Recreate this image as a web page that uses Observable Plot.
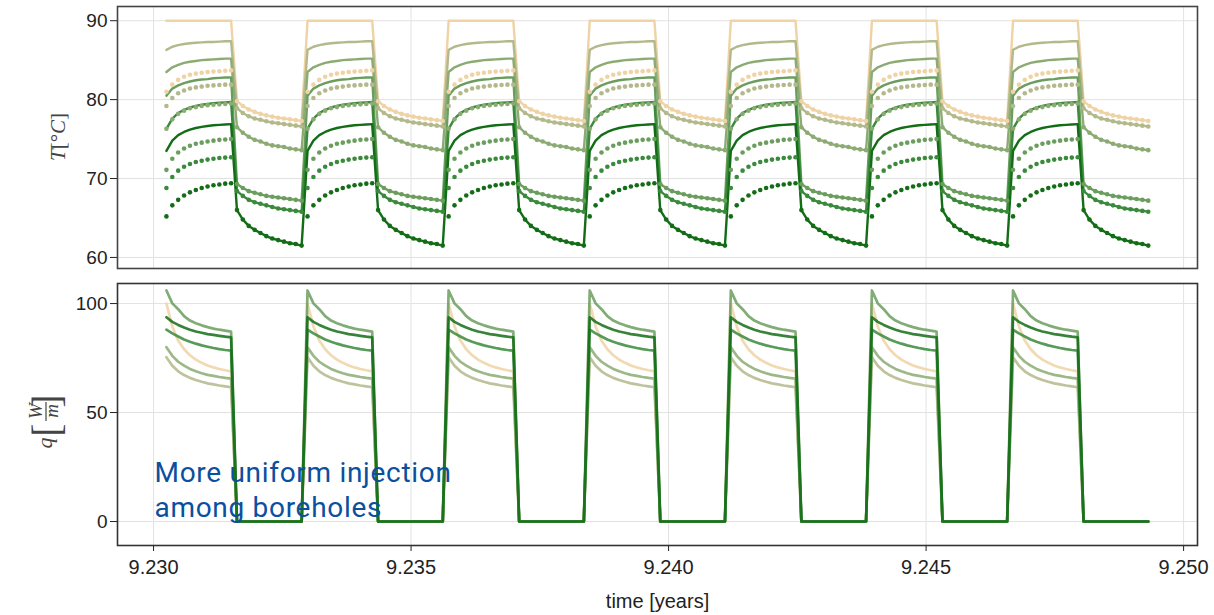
<!DOCTYPE html>
<html>
<head>
<meta charset="utf-8">
<script src="https://cdn.jsdelivr.net/npm/d3@7"></script>
<script src="https://cdn.jsdelivr.net/npm/@observablehq/plot@0.6"></script>
<style>
  body { margin: 0; background: #fff; }
  #chart svg { display: block; }
</style>
</head>
<body>
<div id="chart"></div>
<script>
// ---------------- DATA ----------------
const boreholes = ["BH1", "BH2", "BH3", "BH4", "BH5", "BH6"];
const boreholeColors = ["#efd3a5", "#b3b98b", "#8cab73", "#6b9e5e", "#3a8a3c", "#136d16"];

// 7 identical daily cycles, hourly time steps: 12 h injection, 12 h rest
const cycleDays = [0, 1, 2, 3, 4, 5, 6];
const hourOfDay = [0, 1, 2, 3, 4, 5, 6, 7, 8, 9, 10, 11, 12, 13, 14, 15, 16, 17, 18, 19, 20, 21, 22, 23];
const chargeHours = 12;
const startYear = 9.23025;
const hoursPerYear = 8760;

// inlet temperature (solid lines) during injection hours 0..11 [°C]
const tInletCharge = [
  [90, 90, 90, 90, 90, 90, 90, 90, 90, 90, 90, 90],
  [86.3, 86.7, 86.9, 87.05, 87.15, 87.2, 87.25, 87.3, 87.3, 87.35, 87.4, 87.4],
  [83.5, 84.1, 84.4, 84.65, 84.8, 84.9, 85.0, 85.05, 85.1, 85.15, 85.2, 85.2],
  [80.5, 81.4, 81.8, 82.1, 82.3, 82.45, 82.55, 82.6, 82.7, 82.75, 82.8, 82.8],
  [76.3, 77.6, 78.3, 78.7, 79.0, 79.2, 79.35, 79.45, 79.55, 79.6, 79.65, 79.7],
  [73.5, 74.8, 75.5, 75.9, 76.2, 76.4, 76.55, 76.65, 76.75, 76.8, 76.85, 76.9]
];
// outlet temperature (dots) during injection hours 0..11 [°C]
const tOutletCharge = [
  [81.0, 81.9, 82.5, 82.9, 83.15, 83.3, 83.4, 83.5, 83.55, 83.6, 83.65, 83.7],
  [79.2, 80.2, 80.8, 81.15, 81.4, 81.55, 81.65, 81.75, 81.8, 81.85, 81.9, 81.9],
  [76.3, 77.5, 78.2, 78.6, 78.9, 79.05, 79.2, 79.3, 79.35, 79.4, 79.45, 79.5],
  [71.1, 72.5, 73.3, 73.8, 74.15, 74.4, 74.55, 74.7, 74.8, 74.9, 74.95, 75.0],
  [68.8, 70.2, 71.0, 71.5, 71.85, 72.1, 72.25, 72.4, 72.5, 72.6, 72.65, 72.7],
  [65.2, 66.6, 67.3, 67.85, 68.25, 68.55, 68.8, 69.0, 69.15, 69.25, 69.35, 69.4]
];
// fluid temperature during rest hours 12..23 [°C] (inlet = outlet)
const tRest = [
  [79.8, 79.2, 78.75, 78.45, 78.2, 78.0, 77.85, 77.7, 77.6, 77.5, 77.4, 77.3],
  [78.9, 78.3, 77.9, 77.6, 77.45, 77.25, 77.1, 77.0, 76.9, 76.8, 76.7, 76.6],
  [76.5, 75.8, 75.3, 74.9, 74.7, 74.4, 74.2, 74.1, 74.0, 73.8, 73.7, 73.6],
  [69.3, 68.8, 68.4, 68.2, 68.0, 67.8, 67.7, 67.6, 67.5, 67.4, 67.3, 67.2],
  [68.4, 67.8, 67.3, 67.0, 66.8, 66.6, 66.4, 66.2, 66.1, 66.0, 65.9, 65.8],
  [66.0, 64.8, 64.0, 63.5, 63.1, 62.7, 62.4, 62.2, 62.0, 61.8, 61.7, 61.5]
];
// heat injection rate during injection hours 0..11 [W/m]
const qCharge = [
  [100, 89.5, 83.0, 79.0, 76.3, 74.3, 72.8, 71.6, 70.7, 70.0, 69.4, 68.9],
  [75.4, 71.5, 68.9, 67.2, 65.9, 64.9, 64.1, 63.4, 62.9, 62.4, 62.0, 61.6],
  [80.0, 76.0, 73.3, 71.5, 70.0, 68.9, 68.0, 67.3, 66.8, 66.3, 65.9, 65.6],
  [106, 100.1, 97.4, 94.2, 92.2, 91.0, 90.0, 89.2, 88.5, 88.0, 87.6, 87.1],
  [88.0, 86.3, 84.9, 83.5, 82.5, 81.6, 80.8, 80.2, 79.6, 79.1, 78.7, 78.4],
  [93.7, 91.6, 90.2, 89.0, 88.0, 87.2, 86.6, 86.0, 85.6, 85.2, 84.8, 84.5]
];
// heat injection rate during rest hours 12..23 [W/m]
const qRest = [0, 0, 0, 0, 0, 0, 0, 0, 0, 0, 0, 0];

const xTicks = [9.230, 9.235, 9.240, 9.245, 9.250];
const tTicks = [60, 70, 80, 90];
const qTicks = [0, 50, 100];
const annotation = "More uniform injection\namong boreholes";
const xLabel = "time [years]";

// ---------------- TABLE ----------------
const rows = [];
boreholes.forEach((bh, b) => {
  cycleDays.forEach(day => {
    hourOfDay.forEach(h => {
      const charging = h < chargeHours;
      rows.push({
        bh,
        t: startYear + (day * 24 + h) / hoursPerYear,
        tin: charging ? tInletCharge[b][h] : tRest[b][h - chargeHours],
        tout: charging ? tOutletCharge[b][h] : tRest[b][h - chargeHours],
        q: charging ? qCharge[b][h] : qRest[h - chargeHours]
      });
    });
  });
});

// ---------------- PLOTS ----------------
const xDomain = [9.2293, 9.25027];
const gridStyle = {stroke: "#e2e2e2", strokeOpacity: 1, strokeWidth: 1};
const common = {
  width: 1214,
  marginLeft: 117,
  marginRight: 17,
  color: {domain: boreholes, range: boreholeColors},
  style: {fontFamily: "'Liberation Sans', Arial, sans-serif", fontSize: "19px", color: "#222", background: "#fff", overflow: "visible"}
};

const topPlot = Plot.plot({
  ...common,
  height: 275,
  marginTop: 6,
  marginBottom: 7,
  x: {domain: xDomain, axis: null},
  y: {domain: [58.6, 91.8]},
  marks: [
    Plot.gridX(xTicks, gridStyle),
    Plot.gridY(tTicks, gridStyle),
    Plot.axisY(tTicks, {tickSize: 7, tickPadding: 3, label: null, fontSize: 19}),
    Plot.line(rows, {x: "t", y: "tin", z: "bh", stroke: "bh", strokeWidth: 2.4}),
    Plot.dot(rows, {x: "t", y: "tout", fill: "bh", r: 2.3}),
    Plot.frame({stroke: "#444", strokeWidth: 1.6})
  ]
});

const bottomPlot = Plot.plot({
  ...common,
  height: 340,
  marginTop: 8,
  marginBottom: 70,
  x: {domain: xDomain},
  y: {domain: [-11, 109.2]},
  marks: [
    Plot.gridX(xTicks, gridStyle),
    Plot.gridY(qTicks, gridStyle),
    Plot.axisY(qTicks, {tickSize: 7, tickPadding: 3, label: null, fontSize: 19}),
    Plot.axisX(xTicks, {tickSize: 6, tickPadding: 8, tickFormat: d3.format(".3f"), label: null, fontSize: 20}),
    Plot.line(rows, {x: "t", y: "q", z: "bh", stroke: "bh", strokeWidth: 2.7, strokeOpacity: 0.85}),
    Plot.text([xLabel], {text: d => d, frameAnchor: "bottom", dy: 62, lineAnchor: "bottom", fontSize: 20, fill: "#222"}),
    Plot.text([annotation], {text: d => d, frameAnchor: "bottom-left", dx: 37, dy: -29, textAnchor: "start",
      lineAnchor: "bottom", lineHeight: 1.23, fontSize: 28, fill: "#0b4f9f", fontFamily: "Roboto, 'Open Sans', sans-serif"}),
    Plot.frame({stroke: "#333", strokeWidth: 1.6})
  ]
});

// annotation letter spacing to match the reference's wider face
d3.select(bottomPlot).selectAll("text")
  .filter(function() { return this.textContent.startsWith("More"); })
  .attr("letter-spacing", "0.7px");

// ---------------- AXIS TITLES (math-style) ----------------
const serif = "'Liberation Serif', 'DejaVu Serif', serif";
const gT = d3.select(topPlot).append("g")
  .attr("transform", "translate(65,137) rotate(-90)")
  .attr("font-family", serif).attr("font-size", 21).attr("fill", "#444").attr("text-anchor", "middle");
const tT = gT.append("text");
tT.append("tspan").attr("font-style", "italic").text("T");
tT.append("tspan").text("[°");
tT.append("tspan").attr("font-style", "italic").text("C");
tT.append("tspan").text("]");

// bottom svg starts at page y = 275, so the centre of its frame (page y 414) is at 139
const gQ = d3.select(bottomPlot).append("g")
  .attr("transform", "translate(52,139) rotate(-90)")
  .attr("font-family", serif).attr("fill", "#444");
gQ.append("text").attr("x", -29).attr("y", 0).attr("font-size", 22).attr("font-style", "italic").text("q");
gQ.append("text").attr("x", -16).attr("y", 8).attr("font-size", 40).attr("transform", "scale(1,1)").text("[");
gQ.append("text").attr("x", 3).attr("y", -10).attr("font-size", 19).attr("font-style", "italic").attr("text-anchor", "middle").text("W");
gQ.append("line").attr("x1", -7).attr("x2", 12).attr("y1", -6).attr("y2", -6).attr("stroke", "#444").attr("stroke-width", 1.2);
gQ.append("text").attr("x", 3).attr("y", 6).attr("font-size", 19).attr("font-style", "italic").attr("text-anchor", "middle").text("m");
gQ.append("text").attr("x", 13).attr("y", 8).attr("font-size", 40).text("]");

const chart = document.getElementById("chart");
chart.append(topPlot, bottomPlot);
</script>
</body>
</html>
